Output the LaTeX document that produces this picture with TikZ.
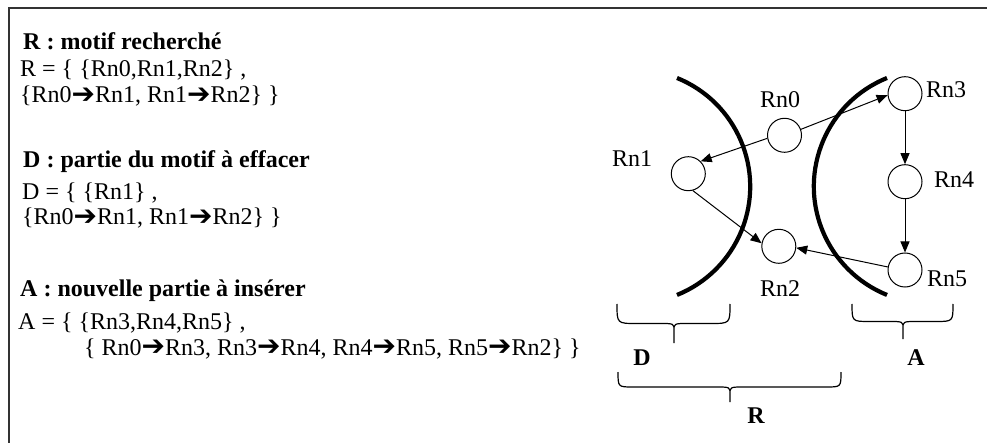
\documentclass[tikz,border=0pt]{standalone}
\usepackage{fontspec}
\setmainfont{Liberation Serif}
\newfontfamily\arrfont{DejaVu Sans}
\usetikzlibrary{arrows.meta}
\newcommand{\myarr}{{\arrfont\fontsize{28}{24}\selectfont\raisebox{-1pt}{➔}}}
\newcommand{\mybrace}[5]{%
  \pgfmathsetmacro{\bym}{-(#4+#5)/2}%
  \pgfmathsetmacro{\byo}{-#4}%
  \pgfmathsetmacro{\byt}{-#5}%
  \pgfmathsetmacro{\bh}{(#5-#4)/2}%
  \pgfmathsetmacro{\bxl}{#1+\bh}%
  \pgfmathsetmacro{\bxr}{#2-\bh}%
  \pgfmathsetmacro{\bxa}{#3-14}%
  \pgfmathsetmacro{\bxb}{#3+14}%
  \pgfmathsetmacro{\byk}{\bym-7}%
  \draw[bracestyle] (#1,\byo) .. controls (#1,\bym) .. (\bxl,\bym) -- (\bxa,\bym)
    .. controls (#3,\bym) .. (#3,\byk) -- (#3,\byt)
    (#3,\byk) .. controls (#3,\bym) .. (\bxb,\bym) -- (\bxr,\bym)
    .. controls (#2,\bym) .. (#2,\byo);
}
\begin{document}
\begin{tikzpicture}[x=1pt,y=1pt,
  txt/.style={anchor=base west,inner sep=0pt,font=\fontsize{24}{24}\selectfont},
  btxt/.style={anchor=base west,inner sep=0pt,font=\fontsize{24}{24}\selectfont\bfseries},
  lbl/.style={anchor=base,inner sep=0pt,font=\fontsize{24}{24}\selectfont},
  blbl/.style={anchor=base,inner sep=0pt,font=\fontsize{24}{24}\selectfont\bfseries},
  circ/.style={circle,draw,line width=1pt,minimum size=34pt,inner sep=0pt,fill=white},
  thickarc/.style={line width=4.2pt},
  conn/.style={line width=1pt,-{Triangle[length=11pt,width=9pt]}},
  bracestyle/.style={line width=1.2pt},
  frame/.style={line width=2pt,color=black!80}]
\useasboundingbox (0,0) rectangle (987,-443);
\draw[frame] (987,-8) -- (8.5,-8) -- (8.5,-443);

% left text
\node[btxt] (t1) at (23,-50) {R : motif recherché};
\node[txt] (t2) at (20,-77) {R = \{ \{Rn0,Rn1,Rn2\} ,};
\node[txt] (t3) at (20,-103) {\{Rn0\myarr Rn1, Rn1\myarr Rn2\} \}};
\node[btxt] (t4) at (23,-168) {D : partie du motif à effacer};
\node[txt] (t5) at (22,-200) {D = \{ \{Rn1\} ,};
\node[txt] (t6) at (22,-225) {\{Rn0\myarr Rn1, Rn1\myarr Rn2\} \}};
\node[btxt] (t7) at (20,-297) {A : nouvelle partie à insérer};
\node[txt] (t8) at (18,-330) {A = \{ \{Rn3,Rn4,Rn5\} ,};
\node[txt] (t9) at (84,-355) {\{ Rn0\myarr Rn3, Rn3\myarr Rn4, Rn4\myarr Rn5, Rn5\myarr Rn2\} \}};

% thick arcs
\draw[thickarc] (677,-78) arc[start angle=68, end angle=-68, radius=117];
\draw[thickarc] (887,-78) arc[start angle=112, end angle=248, radius=117];

% circles
\node[circ] (n0) at (784.5,-135.3) {};
\node[circ] (n1) at (688.3,-173.7) {};
\node[circ] (n2) at (778.8,-246.3) {};
\node[circ] (n3) at (905,-93.7) {};
\node[circ] (n4) at (905,-181.7) {};
\node[circ] (n5) at (905,-270) {};

% labels
\node[lbl] (l0) at (780,-108) {Rn0};
\node[lbl] (l1) at (632,-167) {Rn1};
\node[lbl] (l2) at (780,-297) {Rn2};
\node[lbl] (l3) at (946,-98) {Rn3};
\node[lbl] (l4) at (954,-188) {Rn4};
\node[lbl] (l5) at (947,-287) {Rn5};

% connectors
\draw[conn] (n0.190) -- (n1.45);
\draw[conn] (n0.20) -- (n3.185);
\draw[conn] (n1.-75) -- (n2.170);
\draw[conn] (n3) -- (n4);
\draw[conn] (n4) -- (n5);
\draw[conn] (n5.170) -- (n2.-5);

% braces
\mybrace{617}{730}{674}{304}{343}
\mybrace{852}{953}{903}{304}{339}
\mybrace{618}{841}{730}{372}{402}
\node[blbl] (bd) at (642,-365) {D};
\node[blbl] (ba) at (916,-365) {A};
\node[blbl] (br) at (756,-423) {R};
\end{tikzpicture}
\end{document}
